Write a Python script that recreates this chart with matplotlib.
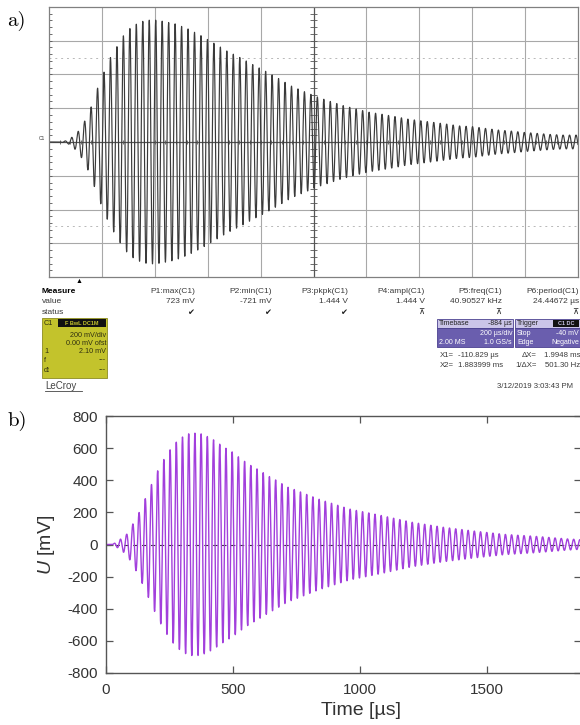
import numpy as np
import matplotlib
matplotlib.use("Agg")
import matplotlib.pyplot as plt
from matplotlib.patches import Rectangle

plt.rcParams["font.family"] = ["Liberation Sans", "DejaVu Sans"]
plt.rcParams["axes.unicode_minus"] = False
plt.rcParams["mathtext.fontset"] = "custom"
plt.rcParams["mathtext.it"] = "Liberation Sans:italic"
plt.rcParams["mathtext.rm"] = "Liberation Sans"

# carrier frequency from the scope readout (P5)
freq_khz = 40.90527

# a) scope capture: envelope (screen time in us, amplitude in mV)
scope_t = [0, 42, 72, 106, 133, 159, 182, 208, 231, 258, 280, 307, 330, 356, 379, 405,
           428, 477, 527, 576, 625, 674, 724, 769, 818, 867, 917, 966, 1019, 1068, 1114,
           1163, 1212, 1261, 1311, 1356, 1405, 1455, 1504, 1553, 1602, 1648, 1697, 1746,
           1796, 1845, 1894, 1943, 2000]
scope_amp = [0, 0, 10, 53, 118, 207, 313, 414, 497, 568, 627, 675, 698, 716, 722, 722,
             716, 700, 669, 629, 584, 538, 499, 460, 420, 377, 331, 298, 264, 238, 215,
             195, 176, 164, 150, 136, 126, 116, 106, 95, 91, 81, 71, 65,
             57, 51, 45, 41, 41]
scope_peak_t = 379

# b) plotted trace: envelope (time in us, amplitude in mV)
trace_t = [0, 25, 40, 51, 81, 104, 129, 153, 178, 202, 227, 251, 276, 300, 325, 350, 374,
           398, 423, 447, 472, 497, 522, 546, 570, 595, 619, 644, 669, 693, 717, 742, 836,
           958, 1080, 1203, 1325, 1447, 1569, 1691, 1813, 1870]
trace_amp = [0, 0, 15, 26, 63, 123, 195, 280, 370, 455, 527, 587, 636, 668, 689, 693, 689,
             673, 652, 625, 599, 576, 545, 517, 492, 470, 447, 422, 401, 378, 356, 342, 283,
             221, 182, 139, 108, 84, 63, 51, 35, 30]
trace_peak_t = 350

x_ticks = [0, 500, 1000, 1500]
y_ticks = [-800, -600, -400, -200, 0, 200, 400, 600, 800]

# scope measurement panel
meas_names = ["P1:max(C1)", "P2:min(C1)", "P3:pkpk(C1)", "P4:ampl(C1)", "P5:freq(C1)", "P6:period(C1)"]
meas_values = ["723 mV", "-721 mV", "1.444 V", "1.444 V", "40.90527 kHz", "24.44672 µs"]
meas_status = ["\u2714", "\u2714", "\u2714", "\u22bc", "\u22bc", "\u22bc"]

W, H = 580, 725
fig = plt.figure(figsize=(W / 100, H / 100), dpi=100)


def box(l, t, r, b):
    return [l / W, 1 - b / H, (r - l) / W, (b - t) / H]


# overlay in pixel coordinates for the scope's text panel
ov = fig.add_axes([0, 0, 1, 1])
ov.set_xlim(0, W)
ov.set_ylim(H, 0)
ov.axis("off")

# ---- a) scope screen ----
ax1 = fig.add_axes(box(49, 7, 578, 277))
ax1.set_xlim(0, 2000)
ax1.set_ylim(-800, 800)
ax1.set_xticks([])
ax1.set_yticks([])
for sp in ax1.spines.values():
    sp.set_color("#808080")
    sp.set_linewidth(0.9)
grid_c = "#a8a8a8"
for v in range(200, 2000, 200):
    if v != 1000:
        ax1.axvline(v, color=grid_c, lw=0.8)
for h in range(-600, 800, 200):
    if h != 0:
        ax1.axhline(h, color=grid_c, lw=0.8)
ax1.hlines([500, -500], 0, 2000, colors="#b8b8b8", lw=0.7, linestyles=(0, (2, 4)))
ax1.axvline(1000, color="#555555", lw=0.9)
ax1.axhline(0, color="#555555", lw=0.9)
ax1.vlines(np.arange(0, 2001, 40), -14, 14, colors="#555555", lw=0.6)
ax1.hlines(np.arange(-800, 801, 40), 985, 1015, colors="#555555", lw=0.6)
ax1.hlines(np.arange(-800, 801, 40), 0, 12, colors="#555555", lw=0.6)

ts = np.linspace(0, 2000, 40000)
env = np.interp(ts, scope_t, scope_amp)
u_scope = env * np.cos(2 * np.pi * freq_khz * 1e-3 * (ts - scope_peak_t))
ax1.plot(ts, u_scope, color="#3a3a3a", lw=0.85)

ov.text(39, 138, "C1", fontsize=3.5, color="#333333", va="center")
ov.text(79, 281, "\u25b2", fontsize=5, color="black", ha="center", va="center")

txt = dict(fontsize=6, color="#3a3a3a", va="center")
ov.text(42, 291, "Measure", fontweight="bold", **dict(txt, color="black"))
ov.text(42, 301, "value", **txt)
ov.text(42, 312, "status", **txt)
col_right = [195, 272, 348, 425, 502, 579]
for xr, n, v, s in zip(col_right, meas_names, meas_values, meas_status):
    ov.text(xr, 291, n, ha="right", **txt)
    ov.text(xr, 301, v, ha="right", **txt)
    ov.text(xr - 4, 312, s, ha="center", family="DejaVu Sans", fontsize=6, color="#222222", va="center")

# channel box
ov.add_patch(Rectangle((42, 318), 65, 60, facecolor="#c3c32c", edgecolor="#8c8c20", lw=0.6))
ov.add_patch(Rectangle((58, 319), 48, 8, facecolor="#111111", edgecolor="none"))
ybt = dict(fontsize=5.2, color="#303010", va="center")
ov.text(44, 323, "C1", **ybt)
ov.text(82, 323, "F BwL DC1M", fontsize=4, color="#c3c32c", ha="center", va="center", fontweight="bold")
ov.text(106, 335, "200 mV/div", ha="right", **ybt)
ov.text(106, 343, "0.00 mV ofst", ha="right", **ybt)
ov.text(44, 351, "1", **ybt)
ov.text(106, 351, "2.10 mV", ha="right", **ybt)
ov.text(44, 360, "f", **ybt)
ov.text(106, 360, "---", ha="right", **ybt)
ov.text(44, 370, "dt", **ybt)
ov.text(106, 370, "---", ha="right", **ybt)
ov.text(45, 386, "LeCroy", fontsize=7, color="#444444", va="center")
ov.plot([45, 82], [391, 391], color="#444444", lw=0.6)

# timebase / trigger boxes
hdr, body, edge = "#cbc5e8", "#6a5eae", "#4b4190"
for l, r in [(437, 513), (515, 580)]:
    ov.add_patch(Rectangle((l, 319), r - l, 9, facecolor=hdr, edgecolor=edge, lw=0.6))
    ov.add_patch(Rectangle((l, 328), r - l, 19, facecolor=body, edgecolor=edge, lw=0.6))
bt = dict(fontsize=5, va="center")
ov.text(439, 323.5, "Timebase", color="#222222", **bt)
ov.text(512, 323.5, "-884 µs", color="#222222", ha="right", **bt)
ov.text(512, 333, "200 µs/div", color="white", ha="right", **bt)
ov.text(439, 342, "2.00 MS", color="white", **bt)
ov.text(512, 342, "1.0 GS/s", color="white", ha="right", **bt)
ov.text(517, 323.5, "Trigger", color="#222222", **bt)
ov.add_patch(Rectangle((553, 320), 26, 7, facecolor="#111111", edgecolor="none"))
ov.text(566, 323.5, "C1 DC", color="#cbc5e8", ha="center", fontsize=4, va="center", fontweight="bold")
ov.text(517, 333, "Stop", color="white", **bt)
ov.text(579, 333, "-40 mV", color="white", ha="right", **bt)
ov.text(517, 342, "Edge", color="white", **bt)
ov.text(579, 342, "Negative", color="white", ha="right", **bt)
ct = dict(fontsize=5.6, color="#3a3a3a", va="center")
ov.text(440, 355, "X1=", **ct)
ov.text(458, 355, "-110.829 µs", **ct)
ov.text(537, 355, "\u0394X=", ha="right", **ct)
ov.text(580, 355, "1.9948 ms", ha="right", **ct)
ov.text(440, 365, "X2=", **ct)
ov.text(458, 365, "1.883999 ms", **ct)
ov.text(537, 365, "1/\u0394X=", ha="right", **ct)
ov.text(580, 365, "501.30 Hz", ha="right", **ct)
ov.text(573, 386, "3/12/2019 3:03:43 PM", ha="right", **ct)

# panel letters
ov.text(7, 21, "a)", family="cmr10", fontsize=15, va="center")
ov.text(7, 421, "b)", family="cmr10", fontsize=15, va="center")

# ---- b) plotted trace ----
ax2 = fig.add_axes(box(106, 416, 581, 673))
tb = np.linspace(0, 1870, 30000)
env_b = np.interp(tb, trace_t, trace_amp)
u_b = env_b * np.cos(2 * np.pi * freq_khz * 1e-3 * (tb - trace_peak_t))
ax2.axhline(0, color="#333333", lw=0.8, ls=(0, (4, 4)), zorder=1)
ax2.plot(tb, u_b, color="#a23fdc", lw=1.0, zorder=2)
ax2.set_xlim(0, 1870)
ax2.set_ylim(-800, 800)
ax2.set_xticks(x_ticks)
ax2.set_yticks(y_ticks)
ax2.tick_params(direction="in", length=5, width=0.9, top=True, right=True,
                labelsize=11, labelcolor="#333333", color="#555555")
ax2.tick_params(axis="x", pad=7)
ax2.tick_params(axis="y", pad=6)
for sp in ax2.spines.values():
    sp.set_color("#555555")
    sp.set_linewidth(1.0)
ax2.set_xlabel("Time [µs]", fontsize=14, color="#333333")
ax2.xaxis.set_label_coords((361 - 106) / 475, -(702 - 673) / 257)
ax2.set_ylabel("$\\mathit{U}$ [mV]", fontsize=14, color="#333333")
ax2.yaxis.set_label_coords((57 - 106) / 475, 0.5)

fig.savefig("out.png", dpi=100)
